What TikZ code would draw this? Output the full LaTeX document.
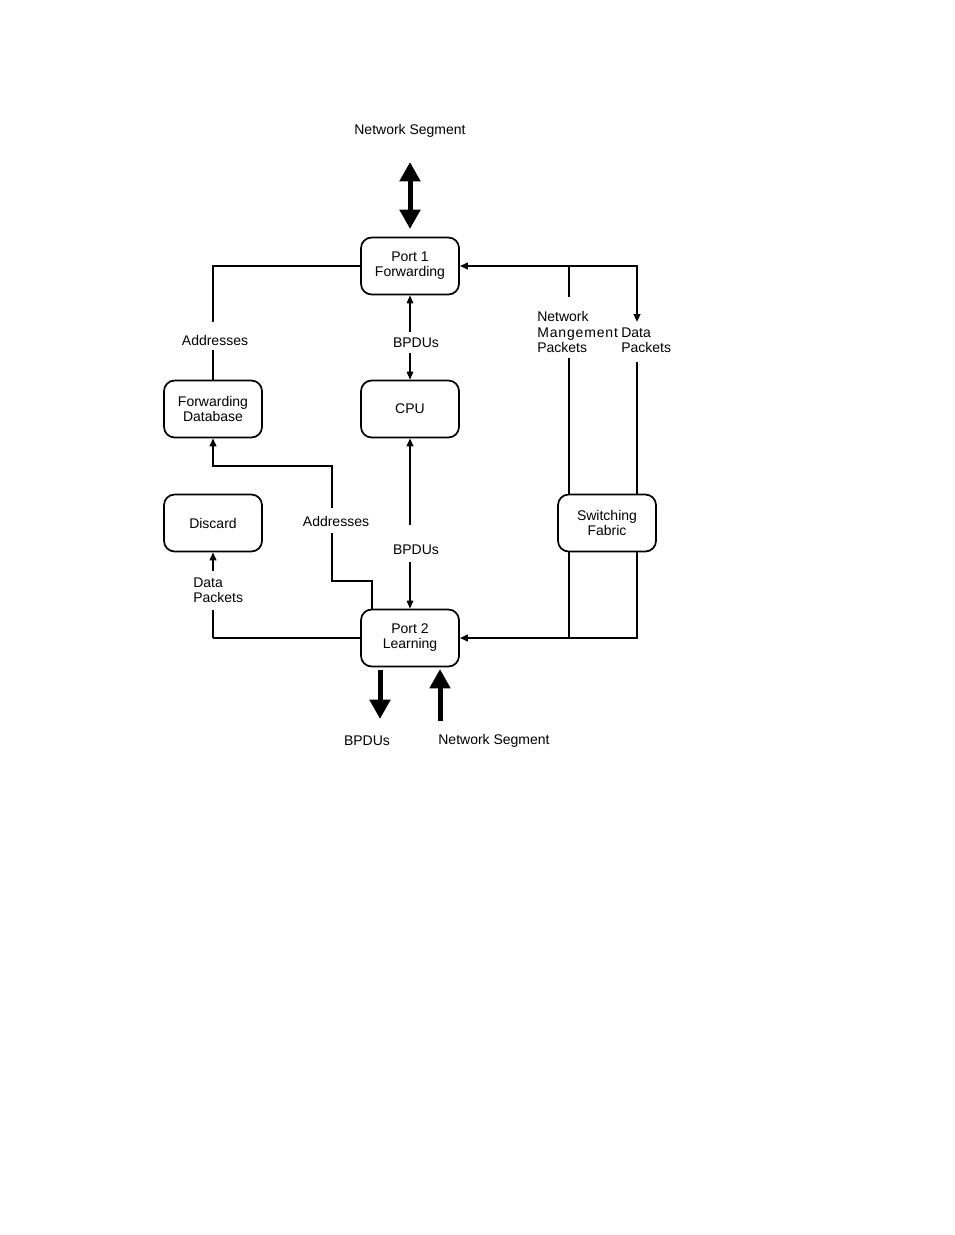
\documentclass[tikz,border=0pt]{standalone}
\usepackage{fontspec}
\setmainfont{Liberation Sans}
\usetikzlibrary{arrows.meta}
\begin{document}
\begin{tikzpicture}[x=0.75pt,y=-0.75pt,
  box/.style={draw,line width=1.3pt,rounded corners=8pt,minimum width=73.5pt,minimum height=42.75pt,align=center,inner sep=0pt,font=\fontsize{10.5}{11.25}\selectfont},
  lbl/.style={font=\fontsize{10.5}{11.5}\selectfont,inner sep=0pt,align=left},
  thinln/.style={line width=0.8pt},
  thickln/.style={line width=1.5pt},
  sarr/.style={-{Triangle[length=6pt,width=5pt]}},
  bigarr/.style={line width=3.75pt,-{Triangle[length=14.5pt,width=15pt]}},
  bigdbl/.style={line width=3.75pt,{Triangle[length=14.5pt,width=15pt]}-{Triangle[length=14.5pt,width=15pt]}}
]
\useasboundingbox (0,0) rectangle (954,1235);

% boxes
\node[box] (p1) at (410,266) {Port 1\\Forwarding};
\node[box] (fdb) at (213,409) {Forwarding\\Database};
\node[box] (cpu) at (410,409) {CPU};
\node[box] (disc) at (213,523) {Discard};
\node[box] (sf) at (607,523) {Switching\\Fabric};
\node[box] (p2) at (410,638) {Port 2\\Learning};

% labels
\node[lbl] (ns1) at (410,131) {Network Segment};
\node[lbl] (addr1) at (215,340) {Addresses};
\node[lbl] (bp1) at (416,343) {BPDUs};
\node[lbl] (addr2) at (336,521) {Addresses};
\node[lbl] (bp2) at (416,550) {BPDUs};
\node[lbl,anchor=west] (nmp) at (537,332) {Network\\{\addfontfeatures{LetterSpace=6}Mangement}\\Packets};
\node[lbl,anchor=west] (dp1) at (621,340.5) {Data\\Packets};
\node[lbl,anchor=west] (dp2) at (193,590) {Data\\Packets};
\node[lbl] (bp3) at (367,741) {BPDUs};
\node[lbl] (ns2) at (494,741) {Network Segment};

% coordinates for free ends
\coordinate (ns1a) at (410,162);
\coordinate (ns1b) at (410,229);
\coordinate (a1t) at (213,322);
\coordinate (a1b) at (213,350);
\coordinate (b1t) at (410,332);
\coordinate (b1b) at (410,353);
\coordinate (b2t) at (410,525);
\coordinate (b2b) at (410,562);
\coordinate (a2s) at (372,609);
\coordinate (a2t) at (332,533);
\coordinate (a2b) at (332,508);
\coordinate (a2c) at (213,466);
\coordinate (dpt) at (213,571);
\coordinate (dpb) at (213,610);
\coordinate (dpc) at (213,638);
\coordinate (dpa) at (637,322);
\coordinate (dpb1) at (637,362);
\coordinate (nma) at (569,267);
\coordinate (nmb) at (569,297);
\coordinate (nmc) at (569,358);
\coordinate (nmd) at (569,494);
\coordinate (nme) at (569,552);
\coordinate (nmf) at (569,638);
\coordinate (dsf1) at (637,494);
\coordinate (dsf2) at (637,552);
\coordinate (bo1) at (380,670);
\coordinate (bo2) at (380,719);
\coordinate (bi1) at (440,721);
\coordinate (bi2) at (440,669);

% network segment top
\draw[bigdbl] (ns1a) -- (ns1b);

% addresses: port1 -> forwarding database
\draw[thickln] (p1.west) -| (a1t);
\draw[thickln] (a1b) -- (fdb.north);

% BPDUs port1 <-> CPU
\draw[thinln,sarr] (b1t) -- (p1.south);
\draw[thinln,sarr] (b1b) -- (cpu.north);

% BPDUs CPU <-> port2
\draw[thickln,sarr] (b2t) -- (cpu.south);
\draw[thinln,sarr] (b2b) -- (p2.north);

% addresses: port2 -> forwarding database
\draw[thickln] (a2s) |- (332,581) -- (a2t);
\draw[thickln,sarr] (a2b) |- (a2c) -- (fdb.south);

% data packets: port2 -> discard
\draw[thinln] (p2.west) -- (dpc);
\draw[thickln] (dpc) -- (dpb);
\draw[thickln,sarr] (dpt) -- (disc.south);

% right side
\draw[thickln,{Triangle[length=6pt,width=5pt]}-{Triangle[length=6pt,width=5pt]}] (p1.east) -| (dpa);
\draw[thinln] (nma) -- (nmb);
\draw[thinln] (nmc) -- (nmd);
\draw[thinln] (nme) -- (nmf);
\draw[thickln] (dpb1) -- (dsf1);
\draw[thickln,sarr] (dsf2) |- (p2.east);

% bottom
\draw[bigarr] (bo1) -- (bo2);
\draw[bigarr] (bi1) -- (bi2);
\end{tikzpicture}
\end{document}
